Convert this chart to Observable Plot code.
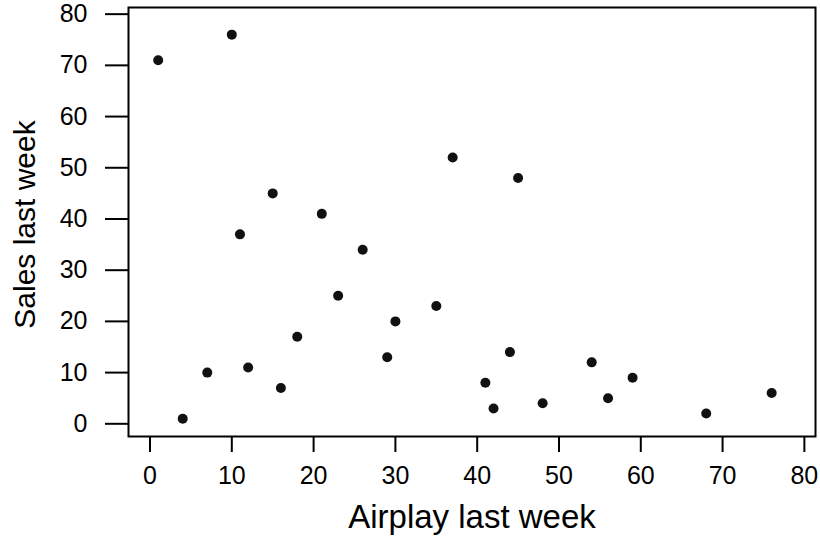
<!DOCTYPE html>
<html>
<head>
<meta charset="utf-8">
<script src="https://cdn.jsdelivr.net/npm/d3@7"></script>
<script src="https://cdn.jsdelivr.net/npm/@observablehq/plot@0.6"></script>
<style>
  html, body { margin: 0; padding: 0; background: #fff; }
  svg { font-family: "Liberation Sans", Arial, sans-serif; }
</style>
</head>
<body>
<div id="chart"></div>
<script>
const airplay = [1, 10, 4, 7, 11, 12, 15, 16, 18, 21, 23, 26, 29, 30, 35, 37, 41, 42, 44, 45, 48, 54, 56, 59, 68, 76];
const sales   = [71, 76, 1, 10, 37, 11, 45, 7, 17, 41, 25, 34, 13, 20, 23, 52, 8, 3, 14, 48, 4, 12, 5, 9, 2, 6];
const xTicks = [0, 10, 20, 30, 40, 50, 60, 70, 80];
const yTicks = [0, 10, 20, 30, 40, 50, 60, 70, 80];

const data = airplay.map((a, i) => ({airplay: a, sales: sales[i]}));

const chart = Plot.plot({
  width: 820,
  height: 538,
  marginLeft: 128,
  marginRight: 5,
  marginTop: 7,
  marginBottom: 102,
  style: {fontFamily: '"Liberation Sans", Arial, sans-serif', background: "#fff", color: "#000"},
  x: {domain: [-2.63, 81.36], ticks: xTicks},
  y: {domain: [-2.48, 81.3], ticks: yTicks},
  marks: [
    Plot.frame({stroke: "#000", strokeWidth: 2}),
    Plot.axisX(xTicks, {tickSize: 16, tickPadding: 14, fontSize: 25, label: null, stroke: "#000", strokeWidth: 2}),
    Plot.axisY(yTicks, {tickSize: 23, tickPadding: 18, fontSize: 25, label: null, stroke: "#000", strokeWidth: 2}),
    Plot.dot(data, {x: "airplay", y: "sales", r: 5, fill: "#111", stroke: "none"}),
    Plot.text(["Airplay last week"], {frameAnchor: "bottom", dy: 80.5, fontSize: 33, fill: "#000", lineAnchor: "middle", textAnchor: "middle"}),
    Plot.text(["Sales last week"], {frameAnchor: "left", dx: -103, dy: 2.5, rotate: -90, fontSize: 30, fill: "#000", lineAnchor: "middle", textAnchor: "middle"})
  ]
});
document.getElementById("chart").appendChild(chart);
</script>
</body>
</html>
